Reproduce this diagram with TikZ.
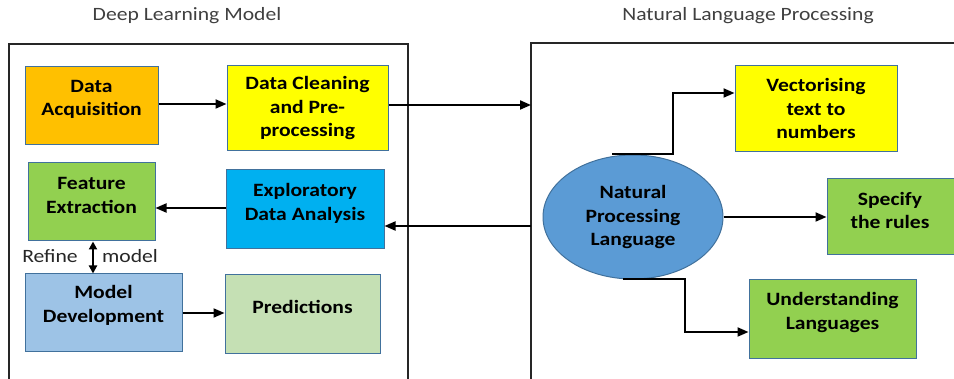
\documentclass[tikz,border=0pt]{standalone}
\usepackage{fontspec}
\setmainfont{Carlito}[FakeStretch=1.15]
\usetikzlibrary{arrows.meta,shapes.geometric}

\definecolor{cOrange}{HTML}{FFC000}
\definecolor{cYellow}{HTML}{FFFF00}
\definecolor{cGreen}{HTML}{92D050}
\definecolor{cBlue}{HTML}{00B0F0}
\definecolor{cLightBlue}{HTML}{9DC3E6}
\definecolor{cLightGreen}{HTML}{C5E0B4}
\definecolor{cEllipse}{HTML}{5B9BD5}
\definecolor{cEdge}{HTML}{41719C}
\definecolor{cTitle}{HTML}{404040}

\tikzset{
  stagebox/.style={draw=cEdge, line width=1pt, inner sep=0pt, rectangle},
  boxtext/.style={font=\fontsize{18.8}{23.5}\selectfont\bfseries, align=center, inner sep=0pt, text=black},
  plaintext/.style={font=\fontsize{18.8}{23.5}\selectfont, inner sep=0pt, text=cTitle},
  frameline/.style={draw=black!85, line width=1.4pt},
  flow/.style={draw=black, line width=2pt, -{Triangle[length=11pt,width=9pt]}},
  twoway/.style={draw=black, line width=2pt, {Triangle[length=8pt,width=8pt]}-{Triangle[length=8pt,width=8pt]}}
}

\begin{document}
\begin{tikzpicture}[x=1pt, y=-1pt]
  \useasboundingbox (0,0) rectangle (954,379);
  \clip (0,0) rectangle (954,379);
  \fill[white] (0,0) rectangle (954,379);

  % section titles
  \node[plaintext] (t1) at (187,16) {Deep Learning Model};
  \node[plaintext] (t2) at (748,16) {Natural Language Processing};

  % outer frames
  \draw[frameline] (9,400) -- (9,44) -- (408,44) -- (408,400);
  \draw[frameline] (531,400) -- (531,43) -- (970,43);
  \coordinate (nlpIn) at (531,105);
  \coordinate (nlpOut) at (531,226);

  % deep learning pipeline
  \node[stagebox, fill=cOrange, minimum width=133pt, minimum height=78pt] (acq) at (91.5,106) {};
  \node[boxtext] (acqT) at (91.5,99.5) {Data\\Acquisition};

  \node[stagebox, fill=cYellow, minimum width=161pt, minimum height=85pt] (dc) at (307.5,108.5) {};
  \node[boxtext] (dcT) at (307.5,108) {Data Cleaning\\and Pre-\\processing};

  \node[stagebox, fill=cGreen, minimum width=127pt, minimum height=78pt] (fe) at (91.5,202) {};
  \node[boxtext] (feT) at (91.5,195.5) {Feature\\Extraction};

  \node[stagebox, fill=cBlue, minimum width=158pt, minimum height=79pt] (eda) at (305,209.5) {};
  \node[boxtext] (edaT) at (305,203.5) {Exploratory\\Data Analysis};

  \node[stagebox, fill=cLightBlue, minimum width=157pt, minimum height=78pt] (md) at (103.5,313) {};
  \node[boxtext] (mdT) at (103.5,305.5) {Model\\Development};

  \node[stagebox, fill=cLightGreen, minimum width=155pt, minimum height=79pt] (pred) at (302.5,314.5) {};
  \node[boxtext] (predT) at (302.5,307) {Predictions};

  % natural language processing part
  \node[ellipse, draw=cEdge, line width=1pt, fill=cEllipse, minimum width=180pt, minimum height=124pt, inner sep=0pt] (nlp) at (633,217) {};
  \node[boxtext] (nlpT) at (633,217) {Natural\\Processing\\Language};

  \node[stagebox, fill=cYellow, minimum width=162pt, minimum height=86pt] (vec) at (816,109) {};
  \node[boxtext] (vecT) at (816,108.5) {Vectorising\\text to\\numbers};

  \node[stagebox, fill=cGreen, minimum width=128pt, minimum height=76pt] (spec) at (891,217) {};
  \node[boxtext] (specT) at (890,210.5) {Specify\\the rules};

  \node[stagebox, fill=cGreen, minimum width=167pt, minimum height=79pt] (und) at (832.5,319.5) {};
  \node[boxtext] (undT) at (832.5,312.5) {Understanding\\Languages};

  % connectors
  \draw[flow] ([yshift=2pt]acq.east) -- ([yshift=2pt]acq.east -| dc.west);
  \draw[flow] (dc.east |- nlpIn) -- (nlpIn);
  \draw[flow] (nlpOut) -- (eda.east |- nlpOut);
  \draw[flow] ([yshift=1.5pt]eda.west) -- ([yshift=1.5pt]eda.west -| fe.east);
  \draw[flow] (md.east) -- (md.east -| pred.west);
  \draw[twoway] (fe.south -| 93,0) -- (md.north -| 93,0);
  \node[plaintext, text=black!85] (refine) at (50,256) {Refine};
  \node[plaintext, text=black!85] (model) at (130,256) {model};

  \draw[flow] ([xshift=-21pt]nlp.north) -- ++(61,0) |- ([yshift=16pt]vec.west);
  \draw[flow] (nlp.east) -- (nlp.east -| spec.west);
  \draw[flow] ([xshift=-10pt]nlp.south) -- ++(62,0) |- ([yshift=-12.5pt]und.west);
\end{tikzpicture}
\end{document}
